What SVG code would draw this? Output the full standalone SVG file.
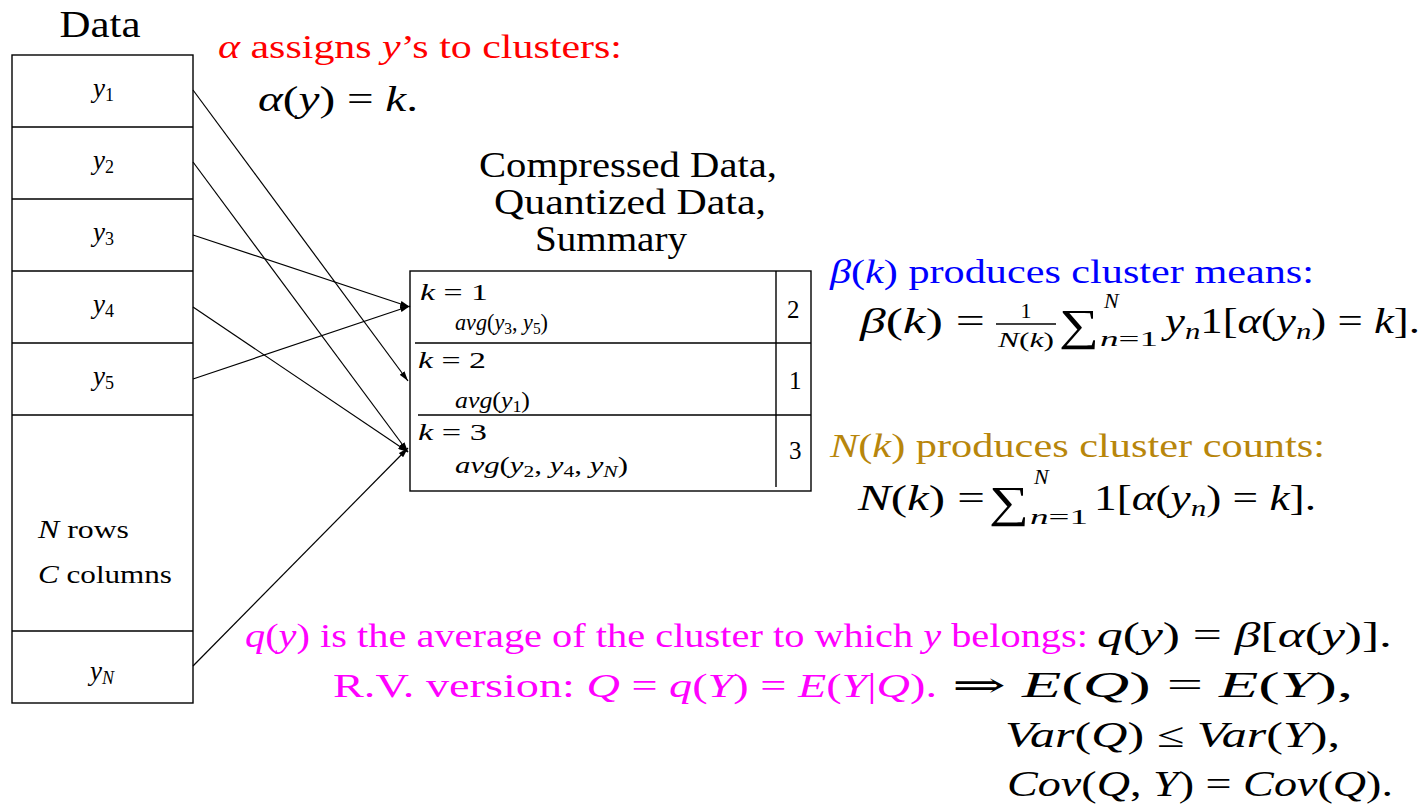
<svg xmlns="http://www.w3.org/2000/svg" width="1427" height="809" viewBox="0 0 1427 809">
<style>
text { font-family: "Liberation Serif", "DejaVu Serif", "Noto Serif", serif; fill: #000; }
.i { font-style: italic; }
.box { fill: none; stroke: #000; stroke-width: 1.4; }
.conn { fill: none; stroke: #000; stroke-width: 1.2; marker-end: url(#ah); }
.red { fill: #ff0000; }
.blue { fill: #0000ff; }
.gold { fill: #b8860b; }
.mag { fill: #ff00ff; }
</style>
<defs>
<marker id="ah" markerWidth="10" markerHeight="6" refX="10" refY="3" orient="auto" markerUnits="userSpaceOnUse">
<path d="M0,0 L10,3 L0,6 z" fill="#000"/>
</marker>
</defs>
<rect width="1427" height="809" fill="#fff"/>

<g id="data">
<text x="100" y="37" font-size="38" text-anchor="middle" textLength="81" lengthAdjust="spacingAndGlyphs">Data</text>
<rect class="box" x="12" y="55" width="181" height="648"/>
<path class="box" d="M12,127H193M12,199H193M12,271H193M12,343H193M12,415H193M12,631H193"/>
<text x="93" y="97" font-size="27"><tspan class="i">y</tspan><tspan font-size="18" dy="4">1</tspan></text>
<text x="93" y="169" font-size="27"><tspan class="i">y</tspan><tspan font-size="18" dy="4">2</tspan></text>
<text x="93" y="241" font-size="27"><tspan class="i">y</tspan><tspan font-size="18" dy="4">3</tspan></text>
<text x="93" y="313" font-size="27"><tspan class="i">y</tspan><tspan font-size="18" dy="4">4</tspan></text>
<text x="93" y="385" font-size="27"><tspan class="i">y</tspan><tspan font-size="18" dy="4">5</tspan></text>
<text x="38" y="538" font-size="26" textLength="91" lengthAdjust="spacingAndGlyphs"><tspan class="i">N</tspan> rows</text>
<text x="38" y="583" font-size="26" textLength="134" lengthAdjust="spacingAndGlyphs"><tspan class="i">C</tspan> columns</text>
<text x="90" y="680" font-size="27"><tspan class="i">y</tspan><tspan class="i" font-size="18" dy="4">N</tspan></text>
</g>

<g id="summary">
<text x="628" y="177" font-size="35" text-anchor="middle" textLength="298" lengthAdjust="spacingAndGlyphs">Compressed Data,</text>
<text x="630" y="214" font-size="35" text-anchor="middle" textLength="272" lengthAdjust="spacingAndGlyphs">Quantized Data,</text>
<text x="611" y="251" font-size="35" text-anchor="middle" textLength="152" lengthAdjust="spacingAndGlyphs">Summary</text>
<rect class="box" x="410" y="271" width="401" height="220"/>
<path class="box" d="M415,343H811M418,415H811M776,271V487"/>
<text x="420" y="300" font-size="23" textLength="68" lengthAdjust="spacingAndGlyphs"><tspan class="i">k</tspan> = 1</text>
<text x="455" y="330" font-size="23" textLength="93" lengthAdjust="spacingAndGlyphs"><tspan class="i">avg</tspan>(<tspan class="i">y</tspan><tspan font-size="16" dy="4">3</tspan><tspan dy="-4">, </tspan><tspan class="i">y</tspan><tspan font-size="16" dy="4">5</tspan><tspan dy="-4">)</tspan></text>
<text x="787" y="318" font-size="25">2</text>
<text x="418" y="368" font-size="23" textLength="68" lengthAdjust="spacingAndGlyphs"><tspan class="i">k</tspan> = 2</text>
<text x="455" y="408" font-size="23" textLength="75" lengthAdjust="spacingAndGlyphs"><tspan class="i">avg</tspan>(<tspan class="i">y</tspan><tspan font-size="16" dy="4">1</tspan><tspan dy="-4">)</tspan></text>
<text x="789" y="389" font-size="25">1</text>
<text x="418" y="440" font-size="23" textLength="69" lengthAdjust="spacingAndGlyphs"><tspan class="i">k</tspan> = 3</text>
<text x="455" y="473" font-size="23" textLength="173" lengthAdjust="spacingAndGlyphs"><tspan class="i">avg</tspan>(<tspan class="i">y</tspan><tspan font-size="16" dy="4">2</tspan><tspan dy="-4">, </tspan><tspan class="i">y</tspan><tspan font-size="16" dy="4">4</tspan><tspan dy="-4">, </tspan><tspan class="i">y</tspan><tspan class="i" font-size="16" dy="4">N</tspan><tspan dy="-4">)</tspan></text>
<text x="789" y="459" font-size="25">3</text>
</g>

<g id="connectors">
<line class="conn" x1="193" y1="90" x2="408" y2="381"/>
<line class="conn" x1="193" y1="162" x2="408" y2="452"/>
<line class="conn" x1="193" y1="235" x2="410" y2="307"/>
<line class="conn" x1="193" y1="307" x2="408" y2="452"/>
<line class="conn" x1="193" y1="379" x2="410" y2="306"/>
<line class="conn" x1="193" y1="666" x2="408" y2="448"/>
</g>

<g id="alpha">
<text class="red" x="218" y="58" font-size="34" textLength="404" lengthAdjust="spacingAndGlyphs"><tspan class="i">α</tspan> assigns <tspan class="i">y</tspan>’s to clusters:</text>
<text x="258" y="111" font-size="36" textLength="160" lengthAdjust="spacingAndGlyphs"><tspan class="i">α</tspan>(<tspan class="i">y</tspan>) = <tspan class="i">k</tspan>.</text>
</g>

<g id="beta">
<text class="blue" x="830" y="283" font-size="34" textLength="484" lengthAdjust="spacingAndGlyphs"><tspan class="i">β</tspan>(<tspan class="i">k</tspan>) produces cluster means:</text>
<text x="860" y="333" font-size="35" textLength="125" lengthAdjust="spacingAndGlyphs"><tspan class="i">β</tspan>(<tspan class="i">k</tspan>) =</text>
<text x="1026" y="318" font-size="22" text-anchor="middle">1</text>
<line x1="996" y1="324" x2="1056" y2="324" stroke="#000" stroke-width="1.4"/>
<text x="1026" y="347" font-size="21" text-anchor="middle" textLength="56" lengthAdjust="spacingAndGlyphs"><tspan class="i">N</tspan>(<tspan class="i">k</tspan>)</text>
<text x="1059" y="340" font-size="44" textLength="40" lengthAdjust="spacingAndGlyphs">∑</text>
<text x="1104" y="308" font-size="22" class="i">N</text>
<text x="1100" y="346" font-size="22" textLength="58" lengthAdjust="spacingAndGlyphs"><tspan class="i">n</tspan>=1</text>
<text x="1165" y="333" font-size="35" textLength="255" lengthAdjust="spacingAndGlyphs"><tspan class="i">y</tspan><tspan class="i" font-size="24" dy="6">n</tspan><tspan dy="-6">1[</tspan><tspan class="i">α</tspan>(<tspan class="i">y</tspan><tspan class="i" font-size="24" dy="6">n</tspan><tspan dy="-6">) = </tspan><tspan class="i">k</tspan>].</text>
</g>

<g id="count">
<text class="gold" x="830" y="457" font-size="34" textLength="495" lengthAdjust="spacingAndGlyphs"><tspan class="i">N</tspan>(<tspan class="i">k</tspan>) produces cluster counts:</text>
<text x="858" y="510" font-size="35" textLength="127" lengthAdjust="spacingAndGlyphs"><tspan class="i">N</tspan>(<tspan class="i">k</tspan>) =</text>
<text x="989" y="517" font-size="44" textLength="40" lengthAdjust="spacingAndGlyphs">∑</text>
<text x="1034" y="484" font-size="22" class="i">N</text>
<text x="1030" y="524" font-size="22" textLength="58" lengthAdjust="spacingAndGlyphs"><tspan class="i">n</tspan>=1</text>
<text x="1094" y="510" font-size="35" textLength="222" lengthAdjust="spacingAndGlyphs">1[<tspan class="i">α</tspan>(<tspan class="i">y</tspan><tspan class="i" font-size="24" dy="6">n</tspan><tspan dy="-6">) = </tspan><tspan class="i">k</tspan>].</text>
</g>

<g id="quantizer">
<text class="mag" x="245" y="647" font-size="34" textLength="843" lengthAdjust="spacingAndGlyphs"><tspan class="i">q</tspan>(<tspan class="i">y</tspan>) is the average of the cluster to which <tspan class="i">y</tspan> belongs:</text>
<text x="1097" y="647" font-size="35" textLength="295" lengthAdjust="spacingAndGlyphs"><tspan class="i">q</tspan>(<tspan class="i">y</tspan>) = <tspan class="i">β</tspan>[<tspan class="i">α</tspan>(<tspan class="i">y</tspan>)].</text>
<text class="mag" x="333" y="697" font-size="34" textLength="604" lengthAdjust="spacingAndGlyphs">R.V. version: <tspan class="i">Q</tspan> = <tspan class="i">q</tspan>(<tspan class="i">Y</tspan>) = <tspan class="i">E</tspan>(<tspan class="i">Y</tspan>|<tspan class="i">Q</tspan>).</text>
<text x="952" y="697" font-size="35" textLength="401" lengthAdjust="spacingAndGlyphs">⇒ <tspan class="i">E</tspan>(<tspan class="i">Q</tspan>) = <tspan class="i">E</tspan>(<tspan class="i">Y</tspan>),</text>
<text x="1005" y="747" font-size="35" textLength="335" lengthAdjust="spacingAndGlyphs"><tspan class="i">Var</tspan>(<tspan class="i">Q</tspan>) ≤ <tspan class="i">Var</tspan>(<tspan class="i">Y</tspan>),</text>
<text x="1007" y="796" font-size="35" textLength="386" lengthAdjust="spacingAndGlyphs"><tspan class="i">Cov</tspan>(<tspan class="i">Q</tspan>, <tspan class="i">Y</tspan>) = <tspan class="i">Cov</tspan>(<tspan class="i">Q</tspan>).</text>
</g>
</svg>
